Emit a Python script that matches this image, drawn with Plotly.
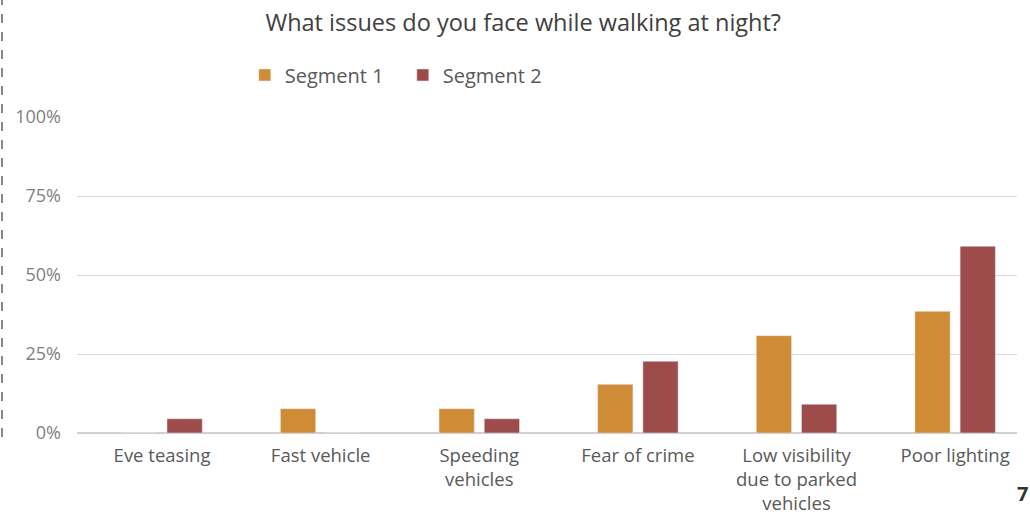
import plotly.graph_objects as go

categories = ["Eve teasing", "Fast vehicle", "Speeding<br>vehicles", "Fear of crime",
              "Low visibility<br>due to parked<br>vehicles", "Poor lighting"]
segment1 = [0.0, 7.7, 7.7, 15.4, 30.8, 38.5]
segment2 = [4.5, 0.0, 4.5, 22.7, 9.1, 59.1]
y_ticks = [0, 25, 50, 75, 100]
y_tick_labels = ["0%", "25%", "50%", "75%", "100%"]

FONT = "Open Sans"

fig = go.Figure()
fig.add_trace(go.Bar(x=categories, y=segment1, name="Segment 1", marker_color="#D08B36"))
fig.add_trace(go.Bar(x=categories, y=segment2, name="Segment 2", marker_color="#9E4C4B"))

fig.update_layout(
    width=1030, height=517,
    paper_bgcolor="white", plot_bgcolor="white",
    margin=dict(l=77, r=13, t=117, b=84, autoexpand=False),
    barmode="group", bargap=0.43, bargroupgap=0.22,
    font=dict(family=FONT, color="#595959"),
    title=dict(text="What issues do you face while walking at night?",
               x=0.508, xanchor="center", y=1 - 23 / 517, yanchor="middle",
               font=dict(size=23.5, color="#404040", family=FONT)),
    legend=dict(orientation="h", x=0.1785, xanchor="left", y=1.133, yanchor="middle",
                font=dict(size=20, color="#595959"), traceorder="normal",
                itemwidth=30, entrywidth=113),
    showlegend=True,
)
fig.update_xaxes(type="category", range=[-0.536, 5.39], showgrid=False, automargin=False,
                 tickfont=dict(size=18.5, color="#595959"), ticks="", showline=False,
                 ticklabelstandoff=9)
fig.update_yaxes(range=[0, 100], tickvals=y_ticks, ticktext=y_tick_labels, automargin=False,
                 showgrid=True, gridcolor="#D9D9D9", gridwidth=1.3,
                 zeroline=True, zerolinecolor="#D0D0D0", zerolinewidth=1.5,
                 tickfont=dict(size=18, color="#7F7F7F"), ticklabelstandoff=15)

fig.add_shape(type="line", xref="paper", yref="paper",
              x0=-0.0798, x1=-0.0798, y0=-0.0127, y1=1.37,
              line=dict(color="#606060", width=1.5, dash="dash"))
fig.add_annotation(text="<b>7</b>", xref="paper", yref="paper",
                   x=1.0138, y=-0.19, xanchor="right", yanchor="middle",
                   showarrow=False, font=dict(size=20, color="#333333", family=FONT))

fig.write_html("out.html", config={"displayModeBar": False},
               post_script="document.body.style.margin='0';")
